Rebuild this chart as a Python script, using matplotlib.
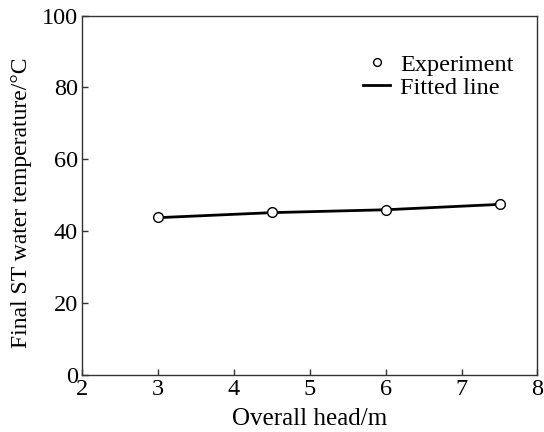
import matplotlib.pyplot as plt

plt.rcParams['font.family'] = ['Liberation Serif', 'DejaVu Serif']

# data
head = [3.0, 4.5, 6.0, 7.5]
temp_exp = [43.8, 45.2, 45.8, 47.5]
fit_x = [3.0, 4.5, 6.0, 7.5]
fit_y = [43.7, 45.1, 45.9, 47.4]

x_ticks = [2, 3, 4, 5, 6, 7, 8]
y_ticks = [0, 20, 40, 60, 80, 100]

fig = plt.figure(figsize=(5.44, 4.32), dpi=100)
ax = fig.add_axes([0.151, 0.133, 0.837, 0.831])

ax.plot(fit_x, fit_y, color='black', lw=2.0, label='Fitted line', zorder=2)
ax.plot(head, temp_exp, 'o', ms=7, mfc='white', mec='black', mew=1.0,
        linestyle='none', label='Experiment', zorder=3)

ax.set_xlim(2, 8)
ax.set_ylim(0, 100)
ax.set_xticks(x_ticks)
ax.set_yticks(y_ticks)
ax.tick_params(direction='in', length=4, width=1, labelsize=17.5, pad=3,
               color='#333333')
for s in ax.spines.values():
    s.set_color('#333333')
    s.set_linewidth(1.0)

ax.set_xlabel('Overall head/m', fontsize=18, labelpad=6)
ax.set_ylabel('Final ST water temperature/\u00b0C', fontsize=17)
ax.yaxis.set_label_coords(-0.11, 0.478)

h, l = ax.get_legend_handles_labels()
ax.legend(h[::-1], l[::-1], loc='upper right', bbox_to_anchor=(0.995, 0.955),
          frameon=False, fontsize=17.5, handlelength=1.1, handletextpad=0.4,
          labelspacing=0.05, markerscale=0.8)

fig.savefig('out.png', dpi=100)
